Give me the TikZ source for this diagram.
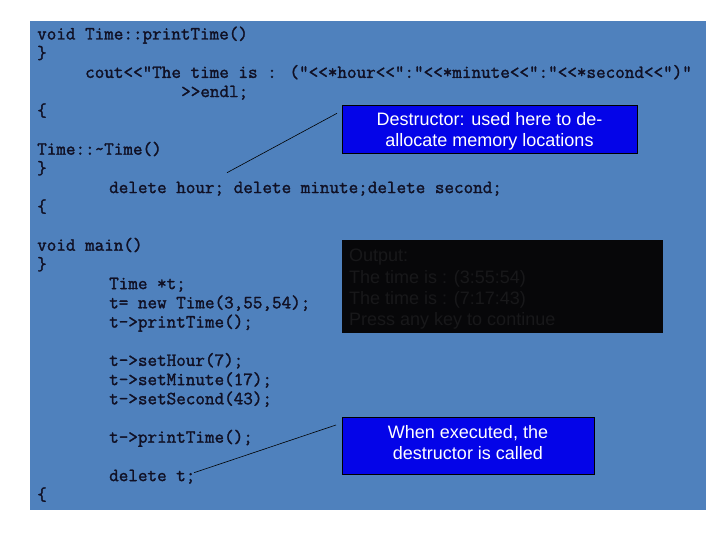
\documentclass[tikz,border=0pt]{standalone}
\usepackage{fontspec}
\setsansfont{Liberation Sans}
\newfontfamily\codefam[FakeBold=1.6]{Latin Modern Mono}
\definecolor{slidebg}{RGB}{79,129,189}
\definecolor{codec}{RGB}{16,16,36}
\definecolor{callblue}{RGB}{4,4,232}
\definecolor{outbg}{RGB}{7,7,9}
\definecolor{outtext}{RGB}{24,24,26}
\newcommand\codefnt{\fontsize{18.6}{19.2}\codefam\selectfont}
\newcommand\callfnt{\fontsize{18}{21}\sffamily\selectfont}
\newcommand\outfnt{\fontsize{18}{21}\sffamily\selectfont}
\begin{document}
\begin{tikzpicture}[x=1pt,y=-1pt,
  codeline/.style={anchor=base west, inner sep=0pt, font=\codefnt, text=codec},
  outline/.style={anchor=base west, inner sep=0pt, font=\outfnt, text=outtext},
  callbox/.style={draw=black, line width=0.8pt, fill=callblue, inner sep=0pt},
  calltext/.style={text=white, font=\callfnt, align=center, inner sep=0pt},
  leader/.style={draw=black, line width=0.6pt}]
\useasboundingbox (0,0) rectangle (720,540);
\fill[white] (0,0) rectangle (720,540);
\node[fill=slidebg, inner sep=0pt, minimum width=676pt, minimum height=489pt, anchor=north west] (bg) at (30,21) {};
% code lines
\node[codeline] (l1)  at (37,39.5)  {void Time::printTime()};
\node[codeline] (l2)  at (37,58.7)  {\}};
\node[codeline] (l3)  at (85,77.9)  {cout<<"The time is : ("<<*hour<<":"<<*minute<<":"<<*second<<")"};
\node[codeline] (l4)  at (181,97.1) {>>endl;};
\node[codeline] (l5)  at (37,116.3) {\{};
\node[codeline] (l6)  at (37,154.7) {Time::\textasciitilde Time()};
\node[codeline] (l7)  at (37,173.9) {\}};
\node[codeline] (l8)  at (109,193.1) {delete hour; delete minute;delete second;};
\node[codeline] (l9)  at (37,212.3) {\{};
\node[codeline] (l10) at (37,250.7) {void main()};
\node[codeline] (l11) at (37,269.9) {\}};
\node[codeline] (l12) at (109,289.1) {Time *t;};
\node[codeline] (l13) at (109,308.3) {t= new Time(3,55,54);};
\node[codeline] (l14) at (109,327.5) {t->printTime();};
\node[codeline] (l15) at (109,365.9) {t->setHour(7);};
\node[codeline] (l16) at (109,385.1) {t->setMinute(17);};
\node[codeline] (l17) at (109,404.3) {t->setSecond(43);};
\node[codeline] (l18) at (109,442.7) {t->printTime();};
\node[codeline] (l19) at (109,481.1) {delete t;};
\node[codeline] (l20) at (37,500.3) {\{};
% callout 1
\node[callbox, minimum width=295pt, minimum height=48pt] (b1) at (489.5,129) {};
\node[calltext] (b1t) at (489.5,131.5) {Destructor: used here to de-\\allocate memory locations};
\coordinate (c1s) at (337,113.3);
\coordinate (c1e) at (227,172.7);
\draw[leader] (c1s) -- (c1e);
% output box
\node[fill=outbg, inner sep=0pt, minimum width=321pt, minimum height=93pt, anchor=north west] (ob) at (342,240) {};
\node[outline] (o1) at (349,261.5) {Output:};
\node[outline] (o2) at (349,283.2) {The time is : (3:55:54)};
\node[outline] (o3) at (349,304.5) {The time is : (7:17:43)};
\node[outline] (o4) at (349,325.5) {Press any key to continue};
% callout 2
\node[callbox, minimum width=252pt, minimum height=57pt] (b2) at (468,445.5) {};
\node[calltext] (b2t) at (468,442.5) {When executed, the\\destructor is called};
\coordinate (c2s) at (336,425);
\coordinate (c2e) at (194,472.7);
\draw[leader] (c2s) -- (c2e);
\end{tikzpicture}
\end{document}
